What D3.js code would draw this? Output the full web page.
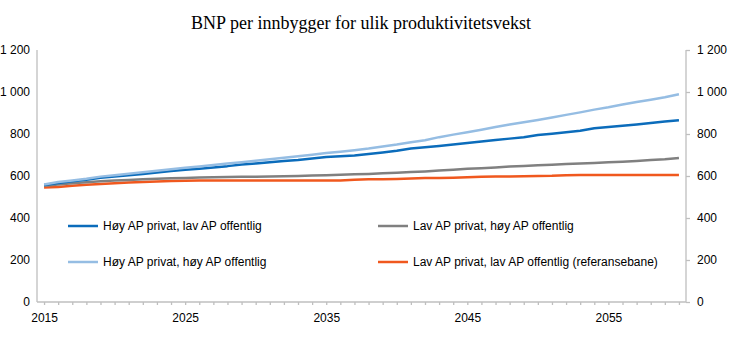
<!DOCTYPE html>
<html>
<head>
<meta charset="utf-8">
<script src="https://cdn.jsdelivr.net/npm/d3@7"></script>
<style>
  html, body { margin: 0; padding: 0; background: #fff; }
  svg { display: block; }
  .axis text { font-family: "Liberation Sans", Arial, sans-serif; font-size: 12px; fill: #000; }
  .axis path, .axis line { stroke: #bfbfbf; stroke-width: 1.3; }
</style>
</head>
<body>
<svg id="chart" width="730" height="340"></svg>
<script>
// Years on the horizontal axis
const years = d3.range(2015, 2061);

// BNP per innbygger (1 000 kr) per scenario
const hoyPrivatLavOff = [557, 567, 575, 582, 592, 598, 604, 610, 617, 624,
  630, 635, 641, 647, 655, 660, 666, 672, 676, 683,
  690, 694, 698, 705, 712, 720, 731, 737, 743, 750,
  757, 764, 771, 778, 785, 795, 801, 808, 815, 827,
  833, 839, 845, 852, 859, 866];
const lavPrivatHoyOff = [553, 560, 565, 570, 575, 578, 581, 584, 587, 589,
  591, 593, 594, 595, 596, 597, 598, 599, 600, 602,
  604, 606, 608, 610, 613, 616, 619, 622, 626, 630,
  634, 637, 641, 645, 648, 651, 654, 657, 660, 662,
  665, 668, 672, 676, 680, 686];
const hoyPrivatHoyOff = [560, 571, 579, 587, 597, 604, 611, 618, 625, 632,
  639, 645, 652, 659, 666, 673, 680, 687, 694, 701,
  709, 716, 723, 731, 741, 750, 761, 770, 785, 797,
  808, 820, 833, 845, 856, 867, 879, 891, 903, 916,
  927, 940, 952, 963, 975, 989];
const referansebane = [545, 548, 553, 558, 562, 566, 569, 572, 574, 576,
  577, 578, 578, 578, 578, 578, 578, 578, 578, 578,
  578, 579, 582, 584, 585, 586, 588, 590, 591, 592,
  594, 597, 598, 598, 599, 600, 601, 604, 605, 605,
  605, 605, 605, 605, 605, 605];

const yTicks = [0, 200, 400, 600, 800, 1000, 1200];
const xLabelYears = [2015, 2025, 2035, 2045, 2055];

const seriesNames = [
  "Høy AP privat, lav AP offentlig",
  "Lav AP privat, høy AP offentlig",
  "Høy AP privat, høy AP offentlig",
  "Lav AP privat, lav AP offentlig (referansebane)"
];
const seriesValues = [hoyPrivatLavOff, lavPrivatHoyOff, hoyPrivatHoyOff, referansebane];
const seriesColors = ["#0b6cbb", "#808080", "#95bde3", "#f0581e"];

const svg = d3.select("#chart");
const plot = { left: 37, right: 686, top: 50, bottom: 302 };

const x = d3.scaleLinear().domain([2014.5, 2060.5]).range([plot.left, plot.right]);
const y = d3.scaleLinear().domain([0, 1200]).range([plot.bottom, plot.top]);

const locale = d3.formatLocale({ decimal: ",", thousands: " ", grouping: [3], currency: ["", ""] });
const fmt = locale.format(",d");

// Title
svg.append("text")
  .attr("x", 361).attr("y", 29)
  .attr("text-anchor", "middle")
  .style("font-family", "'Liberation Serif', 'Times New Roman', serif")
  .style("font-size", "18px")
  .text("BNP per innbygger for ulik produktivitetsvekst");

// Left value axis
svg.append("g").attr("class", "axis")
  .attr("transform", `translate(${plot.left},0)`)
  .call(d3.axisLeft(y).tickValues(yTicks).tickFormat(fmt).tickSize(0).tickPadding(7))
  .call(g => g.select(".domain").attr("d", `M0,${plot.top}V${plot.bottom}`));

// Right value axis
svg.append("g").attr("class", "axis")
  .attr("transform", `translate(${plot.right},0)`)
  .call(d3.axisRight(y).tickValues(yTicks).tickFormat(fmt).tickSize(4).tickPadding(7))
  .call(g => g.select(".domain").attr("d", `M0,${plot.top}V${plot.bottom}`));

// Year axis
svg.append("g").attr("class", "axis")
  .attr("transform", `translate(0,${plot.bottom})`)
  .call(d3.axisBottom(x).tickValues(years)
    .tickFormat(d => xLabelYears.includes(d) ? String(d) : "")
    .tickSize(3).tickPadding(8))
  .call(g => g.select(".domain").attr("d", `M${plot.left},0H${plot.right}`));

// Series lines
const line = d3.line().x((d, i) => x(years[i])).y(d => y(d));
const drawOrder = [3, 1, 0, 2];
drawOrder.forEach(k => {
  svg.append("path")
    .datum(seriesValues[k])
    .attr("fill", "none")
    .attr("stroke", seriesColors[k])
    .attr("stroke-width", 2.5)
    .attr("stroke-linejoin", "round")
    .attr("d", line);
});

// Legend in two columns
const legendPos = [
  { x: 68, y: 226 }, { x: 378, y: 226 },
  { x: 68, y: 262 }, { x: 378, y: 262 }
];
seriesNames.forEach((name, k) => {
  const p = legendPos[k];
  const g = svg.append("g").attr("transform", `translate(${p.x},${p.y})`);
  g.append("line").attr("x1", 0).attr("x2", 30).attr("y1", 0).attr("y2", 0)
    .attr("stroke", seriesColors[k]).attr("stroke-width", 2.5);
  g.append("text").attr("x", 35).attr("y", 0).attr("dy", "0.35em")
    .style("font-family", "'Liberation Sans', Arial, sans-serif")
    .style("font-size", "12px")
    .text(name);
});
</script>
</body>
</html>
